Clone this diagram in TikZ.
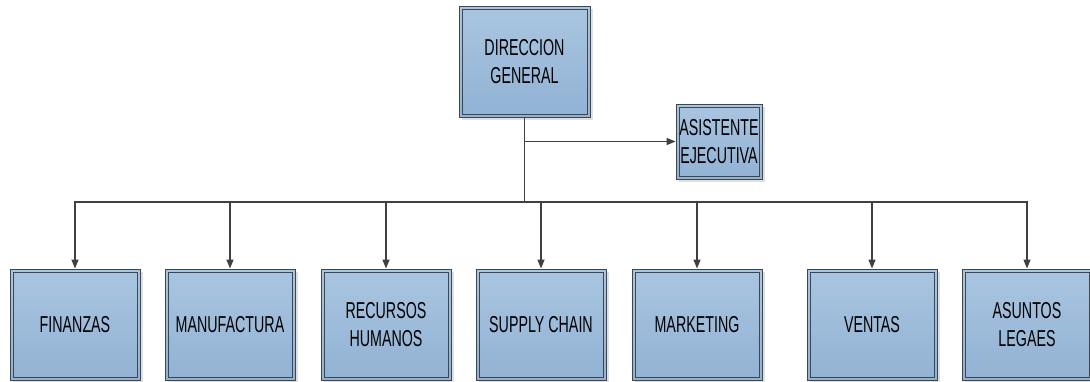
\documentclass[tikz,border=0pt]{standalone}
\usepackage{fontspec}
\setmainfont{Liberation Sans}[FakeStretch=0.62]
\usetikzlibrary{arrows.meta,shadows}
\definecolor{boxtop}{HTML}{A9C5E0}
\definecolor{boxbot}{HTML}{92B2D4}
\definecolor{boxline}{HTML}{3E4650}
\definecolor{wire}{HTML}{404040}
\tikzset{
  orgbox/.style={
    rectangle, draw=boxline, line width=0.9pt,
    top color=boxtop, bottom color=boxbot,
    drop shadow={shadow xshift=2.5pt, shadow yshift=-2.5pt, fill=black!25, opacity=0.5},
    align=center, inner sep=0pt, text=black,
    font=\fontsize{23}{28}\selectfont,
    path picture={\draw[boxline, line width=0.8pt]
      ([shift={(3pt,-3pt)}]path picture bounding box.north west) rectangle
      ([shift={(-3pt,3pt)}]path picture bounding box.south east);}
  },
  bigbox/.style={orgbox, minimum width=130pt, minimum height=111pt},
  smallbox/.style={orgbox, minimum width=86pt, minimum height=75pt},
  link/.style={draw=wire, line width=1.3pt, -{Triangle[length=9pt,width=7pt]}},
}
\begin{document}
\begin{tikzpicture}[x=1pt,y=-1pt]
  \useasboundingbox (0,0) rectangle (1090,381);

  % top of the hierarchy
  \node[bigbox, minimum width=131pt] (dg) at (524.5,61.5) {DIRECCION\\GENERAL};
  \node[smallbox] (asis) at (719,141.5) {ASISTENTE\\EJECUTIVA};

  % departments
  \node[bigbox] (fin) at (75,324.5)  {FINANZAS};
  \node[bigbox] (man) at (230,324.5) {MANUFACTURA};
  \node[bigbox] (rh)  at (386,324.5) {RECURSOS\\HUMANOS};
  \node[bigbox] (sc)  at (541,324.5) {SUPPLY CHAIN};
  \node[bigbox] (mkt) at (697,324.5) {MARKETING};
  \node[bigbox] (ven) at (872,324.5) {VENTAS};
  \node[bigbox] (leg) at (1027,324.5) {ASUNTOS\\LEGAES};

  % bus level for the departments
  \coordinate (bus) at (0,202);

  % connectors
  \draw[link] (dg.south |- asis.west) -- (asis.west);
  \foreach \d in {fin,man,rh,sc,mkt,ven,leg}{
    \draw[link] (dg.south) -- (dg.south |- bus) -| (\d.north);
  }
\end{tikzpicture}
\end{document}
